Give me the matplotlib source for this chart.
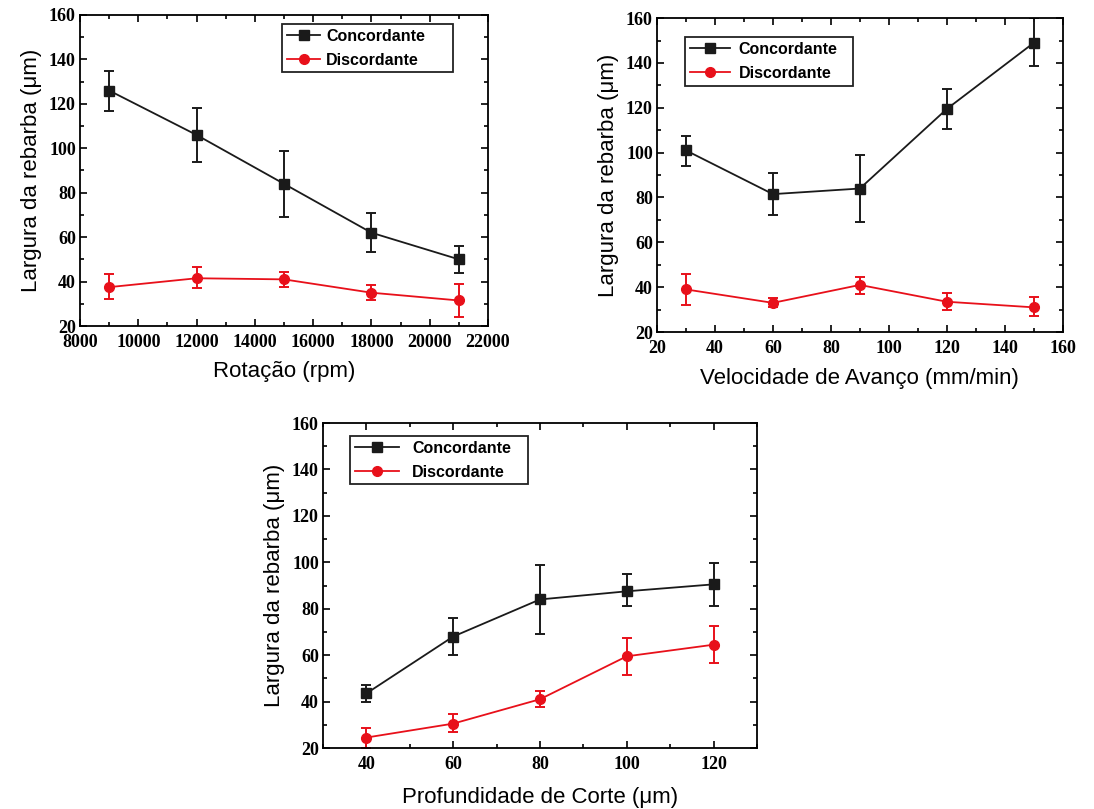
import matplotlib
matplotlib.use("Agg")
import matplotlib.pyplot as plt
from matplotlib.ticker import MultipleLocator
from matplotlib.lines import Line2D

# ---- data ----
rot_x = [9000, 12000, 15000, 18000, 21000]
rot_conc = [126, 106, 84, 62, 50]
rot_conc_lo = [117, 94, 69, 53.5, 44]
rot_conc_hi = [135, 118, 99, 71, 56]
rot_disc = [37.5, 41.5, 41, 35, 31.5]
rot_disc_lo = [32, 37, 37.5, 31.5, 24]
rot_disc_hi = [43.5, 46.5, 44.5, 38.5, 39]

av_x = [30, 60, 90, 120, 150]
av_conc = [101, 81.5, 84, 119.5, 149]
av_conc_lo = [94, 72, 69, 110.5, 138.5]
av_conc_hi = [107.5, 91, 99, 128.5, 160]
av_disc = [39, 33, 41, 33.5, 31]
av_disc_lo = [32, 31, 37, 30, 27]
av_disc_hi = [46, 35, 44.5, 37.5, 35.5]

pc_x = [40, 60, 80, 100, 120]
pc_conc = [43.5, 68, 84, 87.5, 90.5]
pc_conc_lo = [40, 60, 69, 81, 81]
pc_conc_hi = [47, 76, 99, 95, 99.5]
pc_disc = [24.5, 30.5, 41, 59.5, 64.5]
pc_disc_lo = [20, 27, 37.5, 51.5, 56.5]
pc_disc_hi = [28.5, 34.5, 44.5, 67.5, 72.5]

ylabel = "Largura da rebarba (μm)"
labels = ["Concordante", "Discordante"]

BLACK = "#1a1a1a"
RED = "#e8101a"

fig = plt.figure(figsize=(10.94, 8.09), dpi=100)


def panel(rect, x, c, clo, chi, d, dlo, dhi, xlim, xmaj, xmin, xlabel, leg_x, leg_w, leg_top,
          xlabelpad=8, xticks=None, hlen=2.1, htpad=0.35):
    ax = fig.add_axes(rect)
    cerr = [[ci - l for ci, l in zip(c, clo)], [h - ci for ci, h in zip(c, chi)]]
    derr = [[di - l for di, l in zip(d, dlo)], [h - di for di, h in zip(d, dhi)]]
    ax.errorbar(x, c, yerr=cerr, color=BLACK, ecolor=BLACK, marker="s", ms=6.5,
                lw=1.3, elinewidth=1.4, capsize=3.5, capthick=1.4)
    ax.errorbar(x, d, yerr=derr, color=RED, ecolor=RED, marker="o", ms=7,
                lw=1.3, elinewidth=1.4, capsize=3.5, capthick=1.4)
    ax.set_xlim(*xlim)
    ax.set_ylim(20, 160)
    if xticks is not None:
        ax.set_xticks(xticks)
    else:
        ax.xaxis.set_major_locator(MultipleLocator(xmaj))
    ax.xaxis.set_minor_locator(MultipleLocator(xmin))
    ax.yaxis.set_major_locator(MultipleLocator(20))
    ax.yaxis.set_minor_locator(MultipleLocator(10))
    ax.tick_params(which="both", direction="in", top=True, right=True, width=1.2)
    ax.tick_params(which="major", length=5)
    ax.tick_params(which="minor", length=3)
    ax.tick_params(axis="x", pad=6)
    ax.tick_params(axis="y", pad=3)
    for lab in ax.get_xticklabels() + ax.get_yticklabels():
        lab.set_fontfamily("Liberation Serif")
        lab.set_fontweight("bold")
        lab.set_fontsize(13)
    for s in ax.spines.values():
        s.set_linewidth(1.3)
    ax.set_xlabel(xlabel, family="Liberation Sans", fontsize=16, labelpad=xlabelpad)
    ax.set_ylabel(ylabel, family="Liberation Sans", fontsize=16, labelpad=5)
    handles = [
        Line2D([], [], color=BLACK, marker="s", ms=6.5, lw=1.3),
        Line2D([], [], color=RED, marker="o", ms=7, lw=1.3),
    ]
    leg = ax.legend(handles, labels, loc="upper left",
                    bbox_to_anchor=(leg_x, leg_top - 0.2, leg_w, 0.2), mode="expand",
                    borderaxespad=0, fancybox=False,
                    edgecolor="#222222", framealpha=1, handlelength=hlen,
                    prop=dict(family="Liberation Sans", weight="bold", size=11.5),
                    borderpad=0.3, labelspacing=0.55, handletextpad=htpad)
    leg.get_frame().set_linewidth(1.3)
    return ax


panel([0.0731, 0.597, 0.373, 0.3845], rot_x, rot_conc, rot_conc_lo, rot_conc_hi,
      rot_disc, rot_disc_lo, rot_disc_hi, (8000, 22000), 2000, 1000,
      "Rotação (rpm)", 0.495, 0.419, 0.971, xlabelpad=7)
panel([0.6005, 0.5896, 0.371, 0.388], av_x, av_conc, av_conc_lo, av_conc_hi,
      av_disc, av_disc_lo, av_disc_hi, (20, 160), 20, 10,
      "Velocidade de Avanço (mm/min)", 0.069, 0.414, 0.939, xlabelpad=8,
      hlen=2.5, htpad=0.55)
panel([0.2952, 0.0754, 0.3967, 0.4017], pc_x, pc_conc, pc_conc_lo, pc_conc_hi,
      pc_disc, pc_disc_lo, pc_disc_hi, (30, 130), 20, 10,
      "Profundidade de Corte (μm)", 0.062, 0.41, 0.96, xlabelpad=10, xticks=pc_x,
      hlen=2.8, htpad=0.8)

fig.savefig("out.png", dpi=100)
